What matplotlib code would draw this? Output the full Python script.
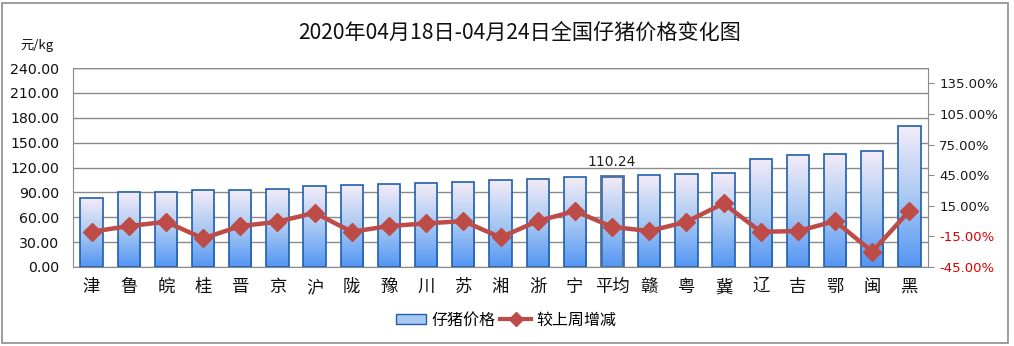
import numpy as np
import matplotlib
matplotlib.use("Agg")
import matplotlib.pyplot as plt
from matplotlib.colors import LinearSegmentedColormap
from matplotlib.patches import Rectangle
from matplotlib.lines import Line2D
from matplotlib.ticker import FuncFormatter, FixedLocator

plt.rcParams['font.family'] = ['DejaVu Sans', 'Noto Sans CJK SC']

categories = ['津', '鲁', '皖', '桂', '晋', '京', '沪', '陇', '豫', '川', '苏', '湘',
              '浙', '宁', '平均', '赣', '粤', '冀', '辽', '吉', '鄂', '闽', '黑']
prices = [83.0, 90.0, 90.2, 92.3, 93.4, 94.6, 97.3, 98.5, 99.8, 101.8, 103.0, 105.4,
          106.6, 108.9, 110.24, 110.6, 112.4, 113.0, 130.6, 134.6, 136.6, 139.4, 169.5]
change_pct = [-10.5, -4.9, -0.7, -17.0, -4.9, -0.7, 8.1, -10.5, -4.9, -2.3, 0.0, -16.0,
              0.0, 9.8, -5.6, -9.8, -0.7, 17.3, -10.5, -9.8, 0.0, -30.0, 10.1]
left_ticks = [0, 30, 60, 90, 120, 150, 180, 210, 240]
right_ticks = [-45, -15, 15, 45, 75, 105, 135]
title = '2020年04月18日-04月24日全国仔猪价格变化图'
avg_label = '110.24'

W, H = 1014, 346
fig = plt.figure(figsize=(W / 100, H / 100), dpi=100)
fig.patch.set_facecolor('white')

# outer frame
fig.add_artist(Rectangle((2 / W, 3 / H), (1008 - 2) / W, (343 - 3) / H,
                         transform=fig.transFigure, fill=False,
                         edgecolor='#8c8c8c', linewidth=1.2))

x0, x1, ytop, ybot = 73, 928, 68, 267
ax = fig.add_axes([x0 / W, 1 - ybot / H, (x1 - x0) / W, (ybot - ytop) / H])
ax2 = ax.twinx()

x = np.arange(len(categories))
ax.set_xlim(-0.5, len(categories) - 0.5)
ax.set_ylim(0, 240)
ax.yaxis.set_major_locator(FixedLocator(left_ticks))
ax.yaxis.set_major_formatter(FuncFormatter(lambda v, p: f'{v:.2f}'))
ax.grid(axis='y', color='#8a8a8a', linewidth=1.0)
ax.set_axisbelow(True)
for s in ['top', 'right']:
    ax.spines[s].set_visible(False)
ax.spines['left'].set_color('#8a8a8a')
ax.spines['bottom'].set_color('#8a8a8a')
ax.tick_params(axis='y', length=0, labelsize=10.2, pad=10, labelcolor='#111111')
ax.tick_params(axis='x', length=0, labelsize=12.5, pad=8, labelcolor='#111111')
ax.set_xticks(x)
ax.set_xticklabels(categories, family=['Noto Sans CJK SC'])

cmap = LinearSegmentedColormap.from_list('g', ['#5496f4', '#a9c9f2', '#f5ecf8'])
grad = np.linspace(0, 1, 256).reshape(-1, 1)
bars = ax.bar(x, prices, width=0.6, facecolor='none', edgecolor='#1f5fae',
              linewidth=1.2, zorder=3)
for i, b in enumerate(bars):
    bx, by = b.get_x(), b.get_y()
    bw, bh = b.get_width(), b.get_height()
    im = ax.imshow(grad, extent=[bx, bx + bw, by, by + bh], origin='lower',
                   cmap=cmap, aspect='auto', zorder=2, interpolation='bicubic')
    im.set_clip_path(b)
    if categories[i] == '平均':
        b.set_edgecolor('#4a6fa0')
        b.set_linewidth(2.0)
ax.set_xlim(-0.5, len(categories) - 0.5)
ax.set_ylim(0, 240)

iavg = categories.index('平均')
ax.text(x[iavg], prices[iavg] + 8, avg_label, ha='center', va='bottom',
        fontsize=10, color='#222222')

# top border of plot area
ax.axhline(240, color='#8a8a8a', linewidth=1.0, zorder=1)

# secondary axis
ax2.set_ylim(-45, 150)
ax2.yaxis.set_major_locator(FixedLocator(right_ticks))
ax2.yaxis.set_major_formatter(FuncFormatter(lambda v, p: f'{v:.2f}%'))
for s in ['top', 'left', 'bottom']:
    ax2.spines[s].set_visible(False)
ax2.spines['right'].set_color('#8a8a8a')
ax2.tick_params(axis='y', direction='out', length=4, color='#8a8a8a',
                labelsize=9.5, pad=4)
for t, v in zip(ax2.get_yticklabels(), right_ticks):
    t.set_color('#e00000' if v < 0 else '#1a1a1a')
ax2.plot(x, change_pct, color='#bd4b48', linewidth=3.2, marker='D',
         markersize=9, markerfacecolor='#bd4b48', markeredgecolor='#bd4b48',
         zorder=5, solid_joinstyle='round')

# texts
fig.text(520 / W, 1 - 33 / H, title, ha='center', va='center', fontsize=15.2,
         family=['Noto Sans CJK SC', 'DejaVu Sans'], color='#111111')
fig.text(20 / W, 1 - 45 / H, '元/kg', ha='left', va='center', fontsize=9.5,
         family=['Noto Sans CJK SC', 'DejaVu Sans'], color='#111111')

# legend
handles = [Rectangle((0, 0), 1, 1, facecolor='#a9c9f2', edgecolor='#1f5fae', linewidth=1),
           Line2D([0], [0], color='#bd4b48', linewidth=3, marker='D', markersize=7)]
leg = fig.legend(handles, ['仔猪价格', '较上周增减'], loc='center',
                 bbox_to_anchor=(506 / W, 1 - 320 / H), ncol=2, frameon=False,
                 prop={'family': 'Noto Sans CJK SC', 'size': 11.5},
                 handlelength=1.9, handleheight=0.6, columnspacing=0.3,
                 handletextpad=0.35)

fig.savefig('out.png', dpi=100, facecolor='white')
